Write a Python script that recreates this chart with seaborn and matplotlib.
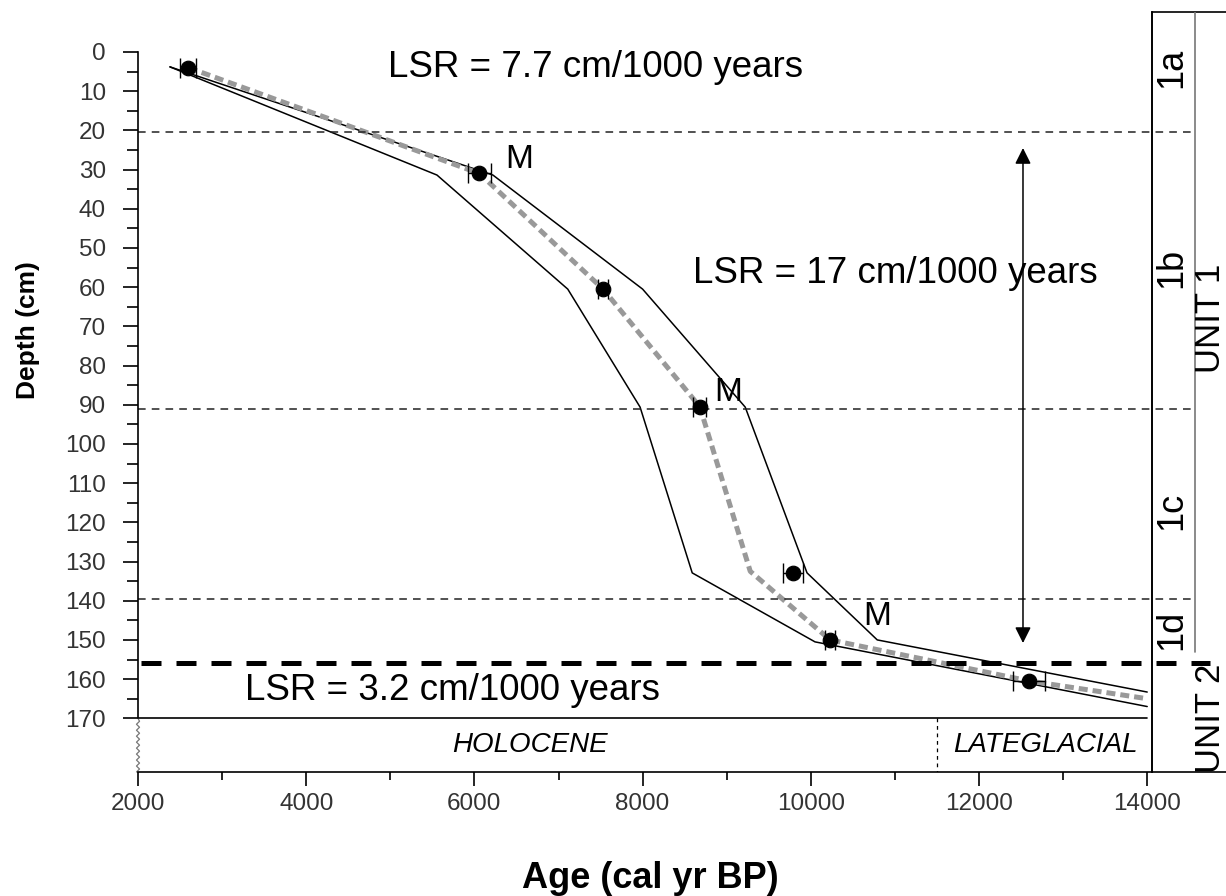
import numpy as np
import seaborn as sns
import matplotlib.pyplot as plt

# dated levels (cal yr BP), depth (cm) and 2-sigma half range
date_age = [2600, 6060, 7530, 8680, 9790, 10230, 12600]
date_depth = [4, 31, 60.5, 90.5, 133, 150, 160.5]
date_err = [95, 135, 60, 75, 120, 60, 190]

# age-depth model: mean curve and min / max envelopes
mean_age = [2600, 6060, 7530, 8680, 9280, 10230, 12600, 14000]
mean_depth = [4, 31, 60.5, 90.5, 132.5, 150, 160.5, 165]
young_age = [2380, 5555, 7110, 7970, 8590, 10050, 14000]
young_depth = [3.8, 31.4, 60.5, 90.6, 132.9, 150.5, 167]
old_age = [2380, 6220, 8000, 9220, 9955, 10790, 14000]
old_depth = [3.8, 31.4, 60.5, 90.6, 132.9, 150, 163.3]

# marine (M) labels
m_age = [6530, 9020, 10790]
m_depth = [27.5, 87, 144]

# stratigraphy
subunit_bounds = [20.5, 91, 139.5]
unit_bound = 156
subunit_names = ['1a', '1b', '1c', '1d']
subunit_mid = [4, 55, 117, 147.5]
unit_names = ['UNIT 1', 'UNIT 2']
unit_mid = [68, 170]

lsr_text = ['LSR = 7.7 cm/1000 years', 'LSR = 17 cm/1000 years', 'LSR = 3.2 cm/1000 years']
lsr_age = [4970, 8600, 3270]
lsr_depth = [4, 56.5, 162.8]

period_names = ['HOLOCENE', 'LATEGLACIAL']
period_mid = [6660, 12790]
period_bound = 11500

sns.set_theme(style='white')
plt.rcParams['font.family'] = ['Liberation Sans', 'DejaVu Sans']
plt.rcParams['text.color'] = 'black'

W, H = 1226, 896
fig = plt.figure(figsize=(W / 100, H / 100), dpi=100)
ax = fig.add_axes([138 / W, 1 - 772 / H, (1152 - 138) / W, (772 - 12) / H])
ax2 = fig.add_axes([1152 / W, 1 - 772 / H, (W - 1152) / W, (772 - 12) / H], sharey=ax)

ax.set_xlim(2000, 14057)
ax.set_ylim(183.7, -10.2)

# envelopes and mean model
sns.lineplot(x=young_age, y=young_depth, ax=ax, color='black', lw=1.1, sort=False, estimator=None)
sns.lineplot(x=old_age, y=old_depth, ax=ax, color='black', lw=1.1, sort=False, estimator=None)
sns.lineplot(x=mean_age, y=mean_depth, ax=ax, color='#999999', lw=3.6, sort=False,
             estimator=None, linestyle=(0, (1.8, 1.0)))

ax.errorbar(date_age, date_depth, xerr=date_err, fmt='none', ecolor='black',
            elinewidth=1.0, capsize=7, capthick=1.0, zorder=4)
sns.scatterplot(x=date_age, y=date_depth, ax=ax, color='black', s=110, zorder=5, edgecolor='black')

for a, d in zip(m_age, m_depth):
    ax.text(a, d, 'M', fontsize=24, ha='center', va='center')

for t, a, d in zip(lsr_text, lsr_age, lsr_depth):
    ax.text(a, d, t, fontsize=26.5, ha='left', va='center')

# subunit / unit boundaries
for d in subunit_bounds:
    ax.plot([2000, 14568], [d, d], color='#222222', lw=1.1, ls=(0, (5, 4)), clip_on=False, zorder=2)
ax.plot([2030, 14750], [unit_bound, unit_bound], color='black', lw=3.6, ls=(0, (4, 3)),
        clip_on=False, zorder=3)

# double arrow across subunit 1b-1c
ax.annotate('', xy=(12523, 24.5), xytext=(12523, 150.8),
            arrowprops=dict(arrowstyle='<|-|>', color='black', lw=1.1,
                            mutation_scale=24, shrinkA=0, shrinkB=0))

# chronozone strip below the plot
ax.plot([2000, 14000], [170, 170], color='black', lw=1.2)
ax.plot([period_bound, period_bound], [170, 183.7], color='black', lw=0.9, ls=(0, (3, 3)))
for name, a in zip(period_names, period_mid):
    ax.text(a, 176.8, name, fontsize=20, style='italic', ha='center', va='center')

# broken left axis
zz_y = np.linspace(170, 183.7, 19)
zz_x = 2000 + np.where(np.arange(19) % 2 == 0, -18, 18)
zz_x[0] = 2000
ax.plot(zz_x, zz_y, color='#777777', lw=0.9, clip_on=False)

ax.spines['top'].set_visible(False)
for s in ['left', 'bottom', 'right']:
    ax.spines[s].set_color('black')
    ax.spines[s].set_linewidth(1.2)
ax.spines['left'].set_bounds(0, 170)
ax.spines['bottom'].set_bounds(2000, 14057)

ax.set_yticks(range(0, 171, 10))
ax.set_yticks(np.arange(5, 170, 10), minor=True)
ax.set_xticks(range(2000, 14001, 2000))
ax.set_xticks(range(3000, 14000, 2000), minor=True)
ax.tick_params(axis='y', which='major', direction='out', length=11, width=1.2,
               color='black', labelsize=17.5, labelcolor='#333333', pad=12, left=True)
ax.tick_params(axis='y', which='minor', direction='out', length=8, width=1.2, color='black', left=True)
ax.tick_params(axis='x', which='major', direction='out', length=10, width=1.2,
               color='black', labelsize=17.5, labelcolor='#333333', pad=5, bottom=True)
ax.tick_params(axis='x', which='minor', direction='out', length=6, width=1.2, color='black', bottom=True)
ax.set_xlabel('')
ax.set_ylabel('')

fig.text(28 / W, 1 - 330 / H, 'Depth (cm)', rotation=90, ha='center', va='center',
         fontsize=19, fontweight='bold')
fig.text(650 / W, 1 - 878 / H, 'Age (cal yr BP)', ha='center', va='center',
         fontsize=26, fontweight='bold')

# stratigraphic column on the right
ax2.set_xlim(0, 1)
ax2.axis('off')
ax2.plot([0, 0], [-10.2, 183.7], color='black', lw=1.2, clip_on=False)
ax2.plot([0, 1], [-10.2, -10.2], color='black', lw=1.2, clip_on=False)
ax2.plot([0, 1], [183.7, 183.7], color='black', lw=1.2, clip_on=False)
ax2.plot([0.58, 0.58], [-10.2, 153], color='#777777', lw=1.2)
for name, d in zip(subunit_names, subunit_mid):
    ax2.text(0.27, d, name, rotation=90, fontsize=26, ha='center', va='center')
for name, d in zip(unit_names, unit_mid):
    ax2.text(0.79, d, name, rotation=90, fontsize=25, ha='center', va='center')

fig.savefig('out.png', dpi=100)
